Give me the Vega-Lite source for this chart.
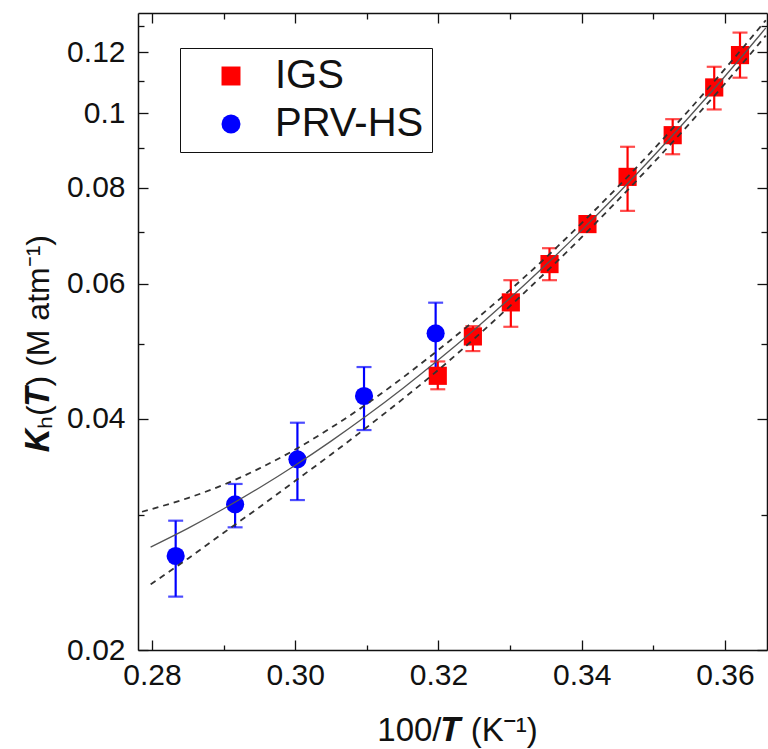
{
  "$schema": "https://vega.github.io/schema/vega-lite/v6.json",
  "width": 629,
  "height": 637,
  "autosize": "none",
  "padding": {"left": 138, "top": 13, "right": 1, "bottom": 99},
  "background": "white",
  "config": {
    "view": {"stroke": null},
    "font": "Liberation Sans",
    "axis": {
      "domainColor": "#111111",
      "domainWidth": 1.5,
      "tickColor": "#111111",
      "tickWidth": 1.3,
      "grid": false,
      "labelFont": "Liberation Sans",
      "labelFontSize": 30,
      "labelColor": "#111111",
      "titleFont": "Liberation Sans",
      "titleColor": "#111111",
      "titleFontWeight": "normal",
      "labelFlush": false,
      "labelOverlap": false
    },
    "legend": {
      "orient": "none",
      "legendX": 42,
      "legendY": 35,
      "title": null,
      "strokeColor": "#111111",
      "fillColor": "white",
      "padding": 8,
      "symbolOffset": 23,
      "labelOffset": 24,
      "labelFont": "Liberation Sans",
      "labelFontSize": 40,
      "labelColor": "#111111",
      "symbolSize": 360,
      "symbolOpacity": 1,
      "symbolStrokeWidth": 0,
      "rowPadding": 8,
      "labelLimit": 400
    }
  },
  "datasets": {
    "pts": [
      {"series": "IGS", "x": 0.3199, "k": 0.0455, "lo": 0.0437, "hi": 0.0475},
      {"series": "IGS", "x": 0.3248, "k": 0.0512, "lo": 0.0490, "hi": 0.0528},
      {"series": "IGS", "x": 0.3301, "k": 0.0567, "lo": 0.0527, "hi": 0.0606},
      {"series": "IGS", "x": 0.3355, "k": 0.0636, "lo": 0.0606, "hi": 0.0667},
      {"series": "IGS", "x": 0.3408, "k": 0.0717, "lo": 0.0705, "hi": 0.0730},
      {"series": "IGS", "x": 0.3464, "k": 0.0826, "lo": 0.0746, "hi": 0.0904},
      {"series": "IGS", "x": 0.3527, "k": 0.0936, "lo": 0.0884, "hi": 0.0982},
      {"series": "IGS", "x": 0.3585, "k": 0.1080, "lo": 0.1011, "hi": 0.1149},
      {"series": "IGS", "x": 0.3621, "k": 0.1190, "lo": 0.1112, "hi": 0.1273},
      {"series": "PRV-HS", "x": 0.2833, "k": 0.02651, "lo": 0.02347, "hi": 0.02947},
      {"series": "PRV-HS", "x": 0.2916, "k": 0.03095, "lo": 0.02889, "hi": 0.03290},
      {"series": "PRV-HS", "x": 0.3003, "k": 0.03542, "lo": 0.03135, "hi": 0.03953},
      {"series": "PRV-HS", "x": 0.3096, "k": 0.04283, "lo": 0.03867, "hi": 0.04671},
      {"series": "PRV-HS", "x": 0.3196, "k": 0.05168, "lo": 0.04653, "hi": 0.05665}
    ],
    "fit": [
      {"curve": "fit", "x": 0.2798, "k": 0.02723},
      {"curve": "fit", "x": 0.285, "k": 0.02880},
      {"curve": "fit", "x": 0.29, "k": 0.03054},
      {"curve": "fit", "x": 0.295, "k": 0.03253},
      {"curve": "fit", "x": 0.30, "k": 0.03480},
      {"curve": "fit", "x": 0.305, "k": 0.03741},
      {"curve": "fit", "x": 0.31, "k": 0.04039},
      {"curve": "fit", "x": 0.315, "k": 0.04381},
      {"curve": "fit", "x": 0.32, "k": 0.04774},
      {"curve": "fit", "x": 0.325, "k": 0.05225},
      {"curve": "fit", "x": 0.33, "k": 0.05745},
      {"curve": "fit", "x": 0.335, "k": 0.06346},
      {"curve": "fit", "x": 0.34, "k": 0.07041},
      {"curve": "fit", "x": 0.345, "k": 0.07848},
      {"curve": "fit", "x": 0.35, "k": 0.08788},
      {"curve": "fit", "x": 0.355, "k": 0.09884},
      {"curve": "fit", "x": 0.36, "k": 0.11168},
      {"curve": "fit", "x": 0.365, "k": 0.12677},
      {"curve": "fit", "x": 0.3657, "k": 0.12909},
      {"curve": "upper", "x": 0.2786, "k": 0.03027},
      {"curve": "upper", "x": 0.285, "k": 0.03154},
      {"curve": "upper", "x": 0.29, "k": 0.03282},
      {"curve": "upper", "x": 0.295, "k": 0.03447},
      {"curve": "upper", "x": 0.30, "k": 0.03648},
      {"curve": "upper", "x": 0.305, "k": 0.03894},
      {"curve": "upper", "x": 0.31, "k": 0.04183},
      {"curve": "upper", "x": 0.315, "k": 0.04524},
      {"curve": "upper", "x": 0.32, "k": 0.04919},
      {"curve": "upper", "x": 0.325, "k": 0.05368},
      {"curve": "upper", "x": 0.33, "k": 0.05885},
      {"curve": "upper", "x": 0.335, "k": 0.06487},
      {"curve": "upper", "x": 0.34, "k": 0.07191},
      {"curve": "upper", "x": 0.345, "k": 0.08007},
      {"curve": "upper", "x": 0.35, "k": 0.08965},
      {"curve": "upper", "x": 0.355, "k": 0.10094},
      {"curve": "upper", "x": 0.36, "k": 0.11417},
      {"curve": "upper", "x": 0.365, "k": 0.12972},
      {"curve": "upper", "x": 0.3657, "k": 0.13209},
      {"curve": "lower", "x": 0.2798, "k": 0.02435},
      {"curve": "lower", "x": 0.285, "k": 0.02630},
      {"curve": "lower", "x": 0.29, "k": 0.02842},
      {"curve": "lower", "x": 0.295, "k": 0.03069},
      {"curve": "lower", "x": 0.30, "k": 0.03321},
      {"curve": "lower", "x": 0.305, "k": 0.03594},
      {"curve": "lower", "x": 0.31, "k": 0.03900},
      {"curve": "lower", "x": 0.315, "k": 0.04243},
      {"curve": "lower", "x": 0.32, "k": 0.04633},
      {"curve": "lower", "x": 0.325, "k": 0.05086},
      {"curve": "lower", "x": 0.33, "k": 0.05609},
      {"curve": "lower", "x": 0.335, "k": 0.06208},
      {"curve": "lower", "x": 0.34, "k": 0.06895},
      {"curve": "lower", "x": 0.345, "k": 0.07693},
      {"curve": "lower", "x": 0.35, "k": 0.08614},
      {"curve": "lower", "x": 0.355, "k": 0.09679},
      {"curve": "lower", "x": 0.36, "k": 0.10925},
      {"curve": "lower", "x": 0.365, "k": 0.12388},
      {"curve": "lower", "x": 0.3657, "k": 0.12615}
    ]
  },
  "layer": [
    {
      "data": {"name": "pts"},
      "mark": {"type": "rule", "strokeWidth": 2.2},
      "encoding": {
        "x": {
          "field": "x", "type": "quantitative",
          "scale": {"domain": [0.27804, 0.36587], "nice": false, "zero": false},
          "axis": {
            "orient": "bottom",
            "values": [0.28, 0.29, 0.30, 0.31, 0.32, 0.33, 0.34, 0.35, 0.36],
            "format": ".2f",
            "labelExpr": "abs(datum.value*50 - round(datum.value*50)) < 0.001 ? datum.label : ''",
            "tickSize": {"condition": {"test": "abs(datum.value*50 - round(datum.value*50)) < 0.001", "value": -10}, "value": -5},
            "labelPadding": 20,
            "title": "100/𝑻 (K⁻¹)",
            "titleFontSize": 33,
            "titleX": 319,
            "titleY": 90,
            "titleBaseline": "alphabetic"
          }
        },
        "y": {
          "field": "lo", "type": "quantitative",
          "scale": {"type": "log", "domain": [0.02, 0.135], "nice": false},
          "axis": {
            "orient": "left",
            "values": [0.02, 0.03, 0.04, 0.05, 0.06, 0.07, 0.08, 0.09, 0.1, 0.11, 0.12, 0.13],
            "labelExpr": "abs(datum.value*50 - round(datum.value*50)) < 0.001 ? toString(round(datum.value*100)/100) : ''",
            "tickSize": {"condition": {"test": "abs(datum.value*50 - round(datum.value*50)) < 0.001", "value": -10}, "value": -6},
            "labelPadding": 23,
            "title": "𝑲ₕ(𝑻) (M atm⁻¹)",
            "titleFontSize": 32,
            "titleX": -90,
            "titleY": 330,
            "titleAlign": "center",
            "titleAngle": -90,
            "titleBaseline": "alphabetic"
          }
        },
        "y2": {"field": "hi"},
        "color": {"field": "series", "type": "nominal", "scale": {"domain": ["IGS", "PRV-HS"], "range": ["#ff0000", "#0000ff"]}}
      }
    },
    {
      "data": {"name": "pts"},
      "mark": {"type": "tick", "orient": "horizontal", "size": 15, "thickness": 2.2},
      "encoding": {
        "x": {"field": "x", "type": "quantitative", "axis": null},
        "y": {"field": "lo", "type": "quantitative", "axis": null},
        "color": {"field": "series", "type": "nominal"}
      }
    },
    {
      "data": {"name": "pts"},
      "mark": {"type": "tick", "orient": "horizontal", "size": 15, "thickness": 2.2},
      "encoding": {
        "x": {"field": "x", "type": "quantitative", "axis": null},
        "y": {"field": "hi", "type": "quantitative", "axis": null},
        "color": {"field": "series", "type": "nominal"}
      }
    },
    {
      "data": {"name": "pts"},
      "mark": {"type": "point", "filled": true, "opacity": 1, "size": 330},
      "encoding": {
        "x": {"field": "x", "type": "quantitative", "axis": null},
        "y": {"field": "k", "type": "quantitative", "axis": null},
        "color": {"field": "series", "type": "nominal"},
        "shape": {"field": "series", "type": "nominal", "scale": {"domain": ["IGS", "PRV-HS"], "range": ["square", "circle"]}}
      }
    },
    {
      "data": {"name": "fit"},
      "transform": [{"filter": "datum.curve == 'fit'"}],
      "mark": {"type": "line", "color": "#555555", "strokeWidth": 1.3, "interpolate": "monotone", "clip": true},
      "encoding": {
        "x": {
          "field": "x", "type": "quantitative",
          "axis": {
            "orient": "top",
            "values": [0.28, 0.29, 0.30, 0.31, 0.32, 0.33, 0.34, 0.35, 0.36],
            "labels": false,
            "title": null,
            "tickSize": {"condition": {"test": "abs(datum.value*50 - round(datum.value*50)) < 0.001", "value": -10}, "value": -6}
          }
        },
        "y": {
          "field": "k", "type": "quantitative",
          "axis": {
            "orient": "right",
            "values": [0.02, 0.03, 0.04, 0.05, 0.06, 0.07, 0.08, 0.09, 0.1, 0.11, 0.12, 0.13],
            "labels": false,
            "title": null,
            "tickSize": {"condition": {"test": "abs(datum.value*50 - round(datum.value*50)) < 0.001", "value": -10}, "value": -6}
          }
        }
      }
    },
    {
      "data": {"name": "fit"},
      "transform": [{"filter": "datum.curve != 'fit'"}],
      "mark": {"type": "line", "color": "#333333", "strokeWidth": 1.8, "strokeDash": [6, 5], "interpolate": "monotone", "clip": true},
      "encoding": {
        "x": {"field": "x", "type": "quantitative", "axis": null},
        "y": {"field": "k", "type": "quantitative", "axis": null},
        "detail": {"field": "curve", "type": "nominal"}
      }
    }
  ],
  "resolve": {"axis": {"x": "independent", "y": "independent"}}
}
